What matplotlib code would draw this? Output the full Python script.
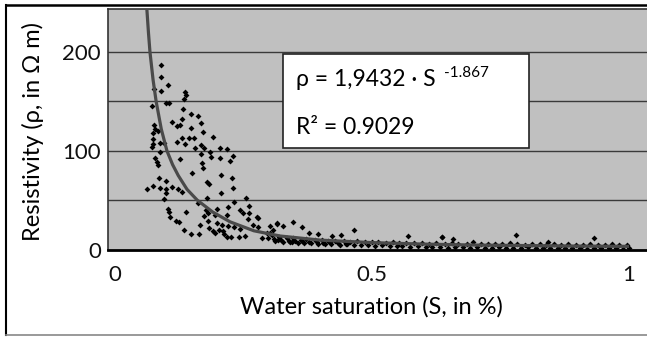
import matplotlib
matplotlib.use("Agg")
import matplotlib.pyplot as plt
from matplotlib.lines import Line2D

plt.rcParams['font.family'] = ['Lato', 'DejaVu Sans']

# scattered core samples: saturation S and resistivity rho
sat = [0.0895, 0.0895, 0.1025, 0.0765, 0.0889, 0.1368, 0.1381, 0.1348, 0.072, 0.0992,
       0.1056, 0.1329, 0.1479, 0.1615, 0.1103, 0.1673, 0.1298, 0.12, 0.1265, 0.0759,
       0.0778, 0.1473, 0.0745, 0.1706, 0.0842, 0.1298, 0.1446, 0.1543, 0.1912, 0.0745,
       0.12, 0.1362, 0.0733, 0.0875, 0.0959, 0.0714, 0.1673, 0.1732, 0.1551, 0.2043,
       0.2173, 0.0875, 0.1673, 0.1848, 0.0778, 0.1265, 0.1868, 0.2043, 0.2302, 0.2237,
       0.1687, 0.0811,
       0.0842, 0.1706, 0.0862, 0.0992, 0.1504, 0.1784, 0.1823, 0.2062, 0.2276, 0.2302,
       0.0617, 0.0733, 0.0875, 0.0992, 0.1103, 0.122, 0.1309, 0.0992, 0.0959, 0.1796,
       0.2056, 0.2549, 0.2315, 0.1609, 0.2204, 0.2613, 0.199, 0.1025, 0.1056, 0.1375,
       0.177, 0.1804, 0.2432, 0.2484, 0.2613, 0.107, 0.1732, 0.1946, 0.2173, 0.2776,
       0.1181, 0.1251, 0.1815, 0.1979, 0.2593, 0.1654, 0.2076, 0.2204, 0.2321, 0.1835,
       0.2029, 0.1348, 0.2432, 0.2679, 0.2788, 0.3016, 0.3146, 0.1479, 0.164, 0.1946,
       0.2126, 0.2251, 0.2418, 0.2529, 0.2854, 0.2951, 0.308, 0.3177, 0.2107, 0.1901,
       0.2173,
       0.2757, 0.3469, 0.3146, 0.3274, 0.3632, 0.465, 0.378, 0.3955, 0.4216, 0.4391,
       0.5706, 0.6356, 0.3016, 0.3438, 0.6582, 0.7802, 0.9325, 0.637, 0.843]
rho = [186.9, 175.1, 166.7, 162.3, 160.6, 159.9, 156.5, 152.5, 145.7, 148.1,
       148.1, 142.0, 137.3, 135.3, 129.5, 128.5, 132.2, 125.4, 126.1, 126.1,
       122.1, 122.8, 117.7, 118.7, 120.1, 113.3, 113.3, 113.3, 114.3, 112.0,
       108.6, 106.6, 106.6, 107.6, 107.6, 104.2, 105.9, 103.1, 102.5, 103.1,
       101.5, 98.5, 96.5, 98.5, 93.0, 91.4, 94.0, 92.4, 95.0, 89.7,
       87.9, 89.0,
       85.6, 82.3, 72.1, 69.7, 77.2, 68.7, 66.4, 75.5, 72.1, 62.6,
       61.3, 64.6, 62.6, 61.3, 63.6, 61.3, 58.6, 56.9, 50.9, 52.5,
       56.9, 52.5, 47.8, 46.8, 43.4, 44.4, 40.7, 40.7, 38.0, 37.7,
       40.0, 36.7, 40.0, 36.7, 37.3, 33.2, 33.9, 35.0, 35.0, 31.6,
       28.9, 27.6, 28.9, 27.2, 30.6, 24.8, 24.8, 23.8, 22.5, 21.5,
       19.8, 19.8, 20.5, 24.8, 23.1, 23.8, 26.5, 15.4, 15.4, 16.4,
       15.7, 12.4, 12.4, 13.7, 11.3, 16.4, 19.8, 9.6, 18.7, 19.0,
       12.4,
       32.6, 28.2, 25.8, 23.8, 22.5, 19.8, 17.0, 15.7, 13.7, 14.7,
       13.7, 12.4, 16.4, 7.9, 10.3, 14.7, 11.3, 13.0, 7.3]

# dense band of low-resistivity samples
band_s = [0.305, 0.318, 0.334, 0.347, 0.361, 0.372, 0.389, 0.402, 0.415, 0.428,
          0.446, 0.458, 0.471, 0.487, 0.499, 0.512, 0.527, 0.541, 0.553, 0.566,
          0.582, 0.597, 0.611, 0.624, 0.641, 0.655, 0.668, 0.684, 0.697, 0.712,
          0.726, 0.739, 0.753, 0.768, 0.781, 0.797, 0.812, 0.826, 0.839, 0.853,
          0.868, 0.882, 0.897, 0.911, 0.924, 0.939, 0.953, 0.967, 0.981, 0.995,
          0.312, 0.327, 0.341, 0.355, 0.367, 0.381, 0.395, 0.409, 0.421, 0.437,
          0.452, 0.464, 0.479, 0.493, 0.506, 0.519, 0.534, 0.548, 0.559, 0.574,
          0.589, 0.604, 0.617, 0.633, 0.648, 0.661, 0.676, 0.691, 0.704, 0.719,
          0.733, 0.746, 0.761, 0.775, 0.789, 0.804, 0.819, 0.833, 0.846, 0.861,
          0.875, 0.889, 0.904, 0.918, 0.932, 0.946, 0.96, 0.974, 0.988, 1.0,
          0.298, 0.31, 0.322, 0.338, 0.35, 0.364, 0.377, 0.392, 0.405, 0.418,
          0.433, 0.449]
band_rho = [15, 13, 12, 11.5, 10, 11, 9.5, 10, 9, 8.5,
            9, 8, 8.5, 8, 7.5, 8, 7, 7.5, 7, 6.5,
            7, 6.5, 6, 7, 6, 6.5, 5.5, 6, 7.5, 6,
            5.5, 6, 5.5, 6.5, 5.5, 5, 6, 5.5, 5, 5.5,
            5, 5.5, 4.5, 5, 5.5, 4.5, 5, 5.5, 4.5, 5,
            9, 8, 7.5, 7, 6.5, 7, 6, 5.5, 6, 5,
            5.5, 4.5, 5, 4.5, 4, 4.5, 3.5, 4, 3.5, 3,
            3.5, 3, 2.5, 3, 2, 3, 2.5, 2, 2.5, 2,
            1.5, 2.5, 2, 1.5, 2, 2.5, 1.5, 2, 1.5, 2,
            1.5, 2, 1.5, 1, 2, 1.5, 2, 1.5, 1, 2,
            12, 10.5, 10, 9, 8.5, 9, 8, 7.5, 7, 7.5,
            6.5, 6]

# power-law trendline
fit_s = [0.062, 0.065, 0.068, 0.074, 0.080, 0.090, 0.101, 0.112, 0.123, 0.14, 0.16,
         0.19, 0.224, 0.27, 0.321, 0.4, 0.5, 0.6, 0.7, 0.8, 0.9, 1.0]
fit_rho = [243, 220, 200, 172, 150, 122, 100, 86, 75, 61, 50,
           38, 28, 19, 13.7, 9.5, 7, 5.5, 4.5, 4, 3.5, 3.2]

grid_levels = [50, 100, 150, 200]

fig = plt.figure(figsize=(6.47, 3.37), dpi=100)
ax = fig.add_axes([0.1665, 0.2596, 0.84, 0.7136])
ax.set_facecolor('#c0c0c0')

for g in grid_levels:
    ax.axhline(g, color='#3a3a3a', lw=1, zorder=1)

ax.scatter(sat, rho, marker='D', s=9, c='black', linewidths=0, zorder=3)
ax.scatter(band_s, band_rho, marker='D', s=9, c='black', linewidths=0, zorder=3)
ax.plot(fit_s, fit_rho, color='#4a4a4a', lw=2.3, zorder=4, solid_capstyle='butt')

ax.set_xlim(-0.0142, 1.043)
ax.set_ylim(0, 243.7)
ax.set_yticks([0, 100, 200])
ax.set_xticks([0, 0.5, 1])
ax.set_xticklabels(['0', '0.5', '1'])
ax.tick_params(length=0, labelsize=16, colors='#111111')
ax.tick_params(axis='y', pad=5)
ax.tick_params(axis='x', pad=11)

for side in ['left', 'top']:
    ax.spines[side].set_color('#333333')
    ax.spines[side].set_linewidth(1.2)
ax.spines['right'].set_visible(False)
ax.spines['bottom'].set_color('black')
ax.spines['bottom'].set_linewidth(2)

ax.set_xlabel('Water saturation (S, in %)', fontsize=17)
ax.xaxis.set_label_coords(0.486, -0.195)
ax.set_ylabel('Resistivity (\u03c1, in \u03a9 m)', fontsize=17)
ax.yaxis.set_label_coords(-0.118, 0.49)

# equation box
fig.patches.append(plt.Rectangle((283 / 647, 1 - 148 / 337), 246 / 647, 94 / 337,
                                 transform=fig.transFigure, facecolor='white',
                                 edgecolor='#222222', lw=1.2, zorder=5))
fig.text(296 / 647, 1 - 86 / 337, '\u03c1 = 1,9432 \u00b7 S', fontsize=16.5, zorder=6)
fig.text(444 / 647, 1 - 77 / 337, '-1.867', fontsize=11, zorder=6)
fig.text(296 / 647, 1 - 134 / 337, 'R\u00b2 = 0.9029', fontsize=16.5, zorder=6)

# outer frame
fig.add_artist(Line2D([6 / 647, 1], [1 - 4.5 / 337, 1 - 4.5 / 337], color='black', lw=1.8))
fig.add_artist(Line2D([6 / 647, 6 / 647], [1 - 4.5 / 337, 1 - 334.5 / 337], color='black', lw=1.5))
fig.add_artist(Line2D([6 / 647, 1], [1 - 334.5 / 337, 1 - 334.5 / 337], color='#888888', lw=1.2))

fig.savefig('out.png', dpi=100)
